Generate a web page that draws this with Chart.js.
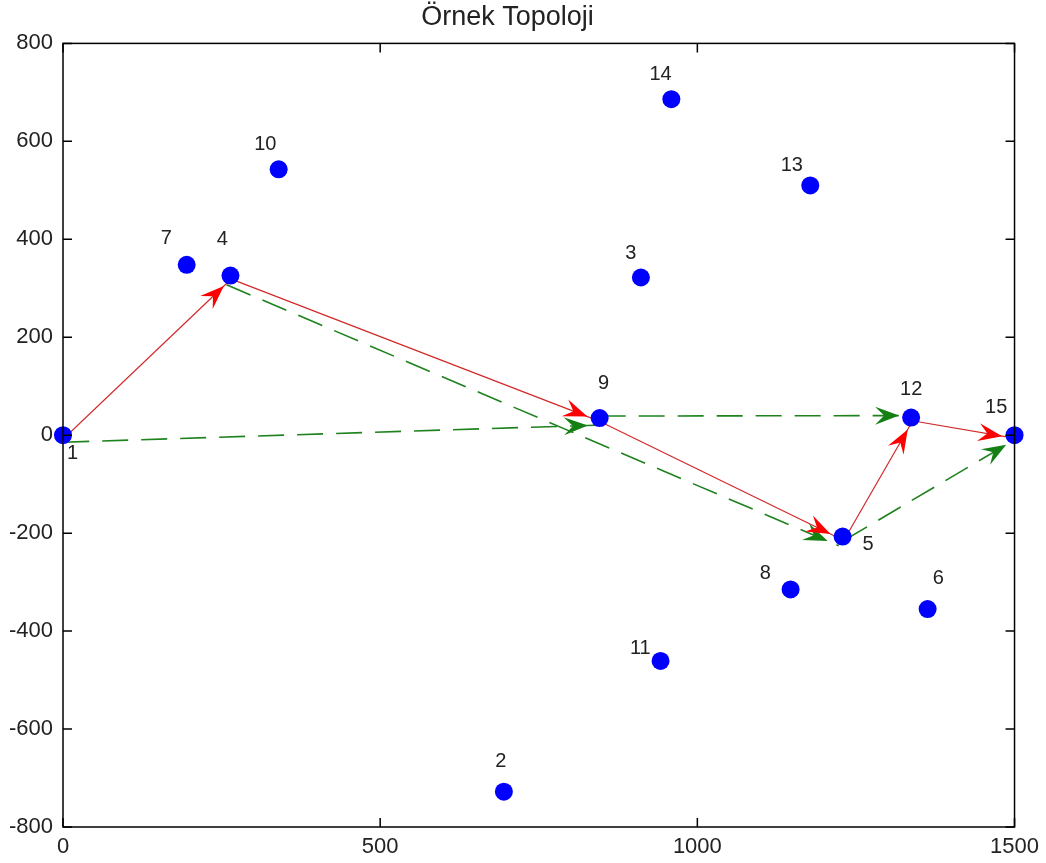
<!DOCTYPE html>
<html>
<head>
<meta charset="utf-8">
<script src="https://cdn.jsdelivr.net/npm/chart.js@4.4.0/dist/chart.umd.min.js"></script>
<style>
  body { margin: 0; background: #fff; }
  #wrap { width: 1046px; height: 863px; }
</style>
</head>
<body>
<div id="wrap"><canvas id="topo"></canvas></div>
<script>
// node coordinates
const nodeNames = ['1','2','3','4','5','6','7','8','9','10','11','12','13','14','15']
const nodeX = [0, 695, 911, 264, 1229, 1363, 195, 1147, 846, 340, 942, 1337, 1178, 959, 1500]
const nodeY = [0, -728, 322, 326, -207, -355, 348, -315, 35, 543, -461, 36, 510, 686, 0]
// where each number label sits (data units)
const labelX = [15, 690, 895, 251, 1269, 1380, 163, 1107, 852, 319, 910, 1337, 1149, 942, 1471]
const labelY = [-37, -667, 371, 399, -224, -292, 402, -282, 105, 593, -435, 93, 550, 736, 57]

// routes (node numbers)
const redPath = [1, 4, 9, 5, 12, 15]
const greenEdges = [[1, 9], [4, 5], [9, 12], [5, 15]]

const xTicks = [0, 500, 1000, 1500]
const yTicks = [-800, -600, -400, -200, 0, 200, 400, 600, 800]

// sideways pixel shift of each drawn route segment (style only)
const redShift = 3
const greenShift = [7, 10, -2, 4]

const pt = n => ({ x: nodeX[n - 1], y: nodeY[n - 1] })

const datasets = [{
    label: 'nodes',
    data: nodeX.map((x, i) => ({ x: x, y: nodeY[i] })),
    pointRadius: 9,
    pointHoverRadius: 9,
    pointBackgroundColor: '#0000ff',
    pointBorderWidth: 0,
    showLine: false,
    clip: false,
    order: 0
}]

for (let i = 0; i < redPath.length - 1; i++) {
    datasets.push({
        data: [pt(redPath[i]), pt(redPath[i + 1])],
        showLine: true,
        borderColor: 'rgb(210, 40, 40)',
        borderWidth: 1.2,
        pointRadius: 0,
        order: 1,
        arrowColor: '#ff0000',
        shift: redShift
    })
}
greenEdges.forEach((e, i) => {
    datasets.push({
        data: [pt(e[0]), pt(e[1])],
        showLine: true,
        borderColor: 'rgb(30, 130, 30)',
        borderWidth: 1.6,
        borderDash: [26, 13],
        pointRadius: 0,
        order: 2,
        arrowColor: 'rgb(20, 128, 20)',
        shift: greenShift[i]
    })
})

function edgeGeom(chart, index) {
    const meta = chart.getDatasetMeta(index)
    const a = meta.data[0], b = meta.data[1]
    const dx = b.x - a.x, dy = b.y - a.y
    const len = Math.sqrt(dx * dx + dy * dy)
    return { a, b, ux: dx / len, uy: dy / len }
}

// shift each route line to its right-hand side and put an arrow head at its end
const arrowPlugin = {
    id: 'arrows',
    beforeDatasetDraw(chart, args) {
        const ds = chart.data.datasets[args.index]
        if (!ds.arrowColor) return
        const g = edgeGeom(chart, args.index)
        chart.ctx.save()
        chart.ctx.translate(-g.uy * ds.shift, g.ux * ds.shift)
    },
    afterDatasetDraw(chart, args) {
        const ds = chart.data.datasets[args.index]
        if (!ds.arrowColor) return
        const ctx = chart.ctx
        const g = edgeGeom(chart, args.index)
        const tipX = g.b.x - g.ux * 12, tipY = g.b.y - g.uy * 12
        const px = -g.uy, py = g.ux
        const L = 24, W = 9, N = 15
        ctx.beginPath()
        ctx.moveTo(tipX, tipY)
        ctx.lineTo(tipX - g.ux * L + px * W, tipY - g.uy * L + py * W)
        ctx.lineTo(tipX - g.ux * N, tipY - g.uy * N)
        ctx.lineTo(tipX - g.ux * L - px * W, tipY - g.uy * L - py * W)
        ctx.closePath()
        ctx.fillStyle = ds.arrowColor
        ctx.fill()
        ctx.restore()
    }
}

// box round the plot with inward ticks on all four sides
const boxPlugin = {
    id: 'box',
    afterDraw(chart) {
        const ctx = chart.ctx
        const a = chart.chartArea
        const xs = chart.scales.x, ys = chart.scales.y
        ctx.save()
        ctx.strokeStyle = '#000'
        ctx.lineWidth = 1.5
        ctx.strokeRect(a.left, a.top, a.right - a.left, a.bottom - a.top)
        ctx.beginPath()
        xTicks.forEach(v => {
            const px = xs.getPixelForValue(v)
            ctx.moveTo(px, a.bottom); ctx.lineTo(px, a.bottom - 9)
            ctx.moveTo(px, a.top); ctx.lineTo(px, a.top + 9)
        })
        yTicks.forEach(v => {
            const py = ys.getPixelForValue(v)
            ctx.moveTo(a.left, py); ctx.lineTo(a.left + 9, py)
            ctx.moveTo(a.right, py); ctx.lineTo(a.right - 9, py)
        })
        ctx.stroke()

        // node numbers
        ctx.fillStyle = '#222'
        ctx.font = '20px "Liberation Sans", Arial, sans-serif'
        ctx.textAlign = 'center'
        ctx.textBaseline = 'middle'
        nodeNames.forEach((n, i) => {
            ctx.fillText(n, xs.getPixelForValue(labelX[i]), ys.getPixelForValue(labelY[i]))
        })
        ctx.restore()
    }
}

const tickFont = { family: '"Liberation Sans", Arial, sans-serif', size: 22 }

new Chart(document.getElementById('topo'), {
    type: 'scatter',
    data: { datasets: datasets },
    options: {
        responsive: true,
        maintainAspectRatio: false,
        animation: false,
        layout: { padding: { top: 0, right: 31, bottom: 0, left: 0 } },
        plugins: {
            legend: { display: false },
            tooltip: { enabled: false },
            title: {
                display: true,
                text: 'Örnek Topoloji',
                color: '#222',
                font: { family: '"Liberation Sans", Arial, sans-serif', size: 27, weight: 'normal' },
                padding: { top: 1, bottom: 10 }
            }
        },
        scales: {
            x: {
                type: 'linear',
                min: 0,
                max: 1500,
                grid: { display: false, drawTicks: false },
                border: { display: false },
                ticks: { stepSize: 500, color: '#222', font: tickFont, padding: 7, maxRotation: 0,
                    callback: v => String(v) },
                afterFit(scale) { scale.height = 36 }
            },
            y: {
                type: 'linear',
                min: -800,
                max: 800,
                grid: { display: false, drawTicks: false },
                border: { display: false },
                ticks: { stepSize: 200, color: '#222', font: tickFont, padding: 10,
                    callback: v => String(v) },
                afterFit(scale) { scale.width = 63 }
            }
        }
    },
    plugins: [arrowPlugin, boxPlugin]
})
</script>
</body>
</html>
